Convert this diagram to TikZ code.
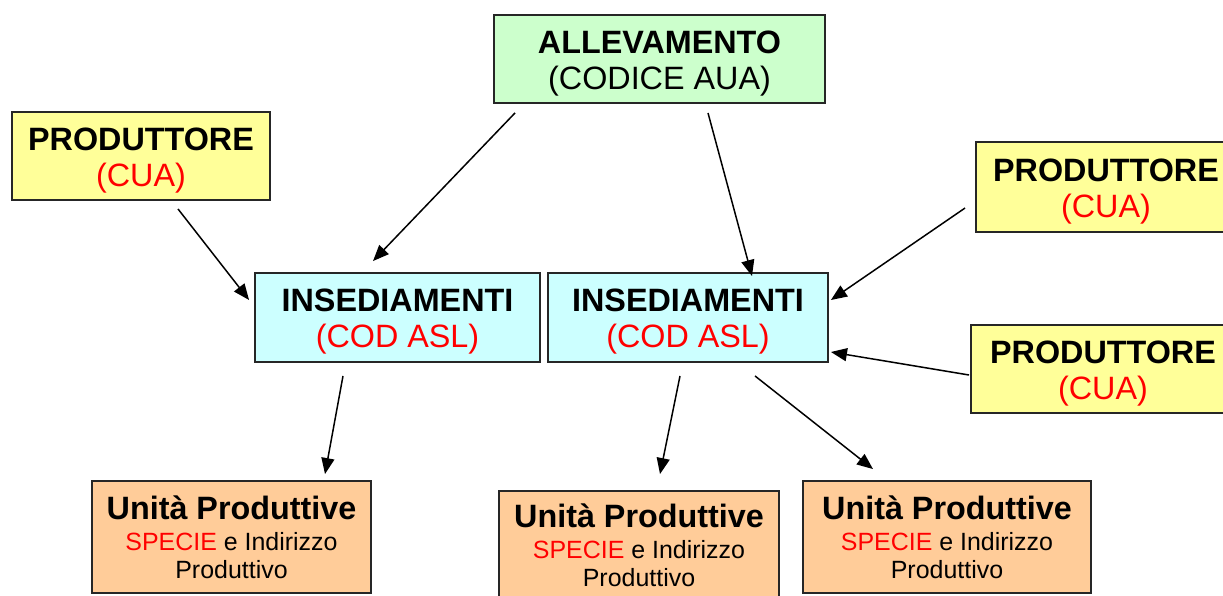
\documentclass[tikz,border=0pt]{standalone}
\usepackage{fontspec}
\setmainfont{Liberation Sans}
\usetikzlibrary{arrows.meta}
\definecolor{verde}{HTML}{CCFFCC}
\definecolor{giallo}{HTML}{FFFF99}
\definecolor{azzurro}{HTML}{CCFFFF}
\definecolor{arancio}{HTML}{FFCC99}
\newcommand{\grande}{\fontsize{18.4}{20.5}\selectfont}
\newcommand{\piccolo}{\fontsize{14.2}{16}\selectfont}
\newcommand{\alza}{\rule{0pt}{17.5pt}}
\begin{document}
\begin{tikzpicture}[x=0.02cm, y=-0.02cm,
	box/.style={draw=black!85, line width=1.1pt, align=center, inner sep=0pt, font=\grande},
	arr/.style={line width=0.85pt, -{Triangle[length=0.32cm, width=0.26cm]}}]
	\useasboundingbox (0, 0) rectangle (1223, 595);
	% boxes
	\node[box, fill=verde, minimum width=6.62cm, minimum height=1.76cm] (all) at (659.5, 59) {\alza\textbf{ALLEVAMENTO}\\(CODICE AUA)};
	\node[box, fill=giallo, minimum width=5.16cm, minimum height=1.76cm] (prodL) at (141, 156) {\alza\textbf{PRODUTTORE}\\\textcolor{red}{(CUA)}};
	\node[box, fill=giallo, minimum width=5.2cm, minimum height=1.8cm] (prodR1) at (1106, 187) {\alza\textbf{PRODUTTORE}\\\textcolor{red}{(CUA)}};
	\node[box, fill=giallo, minimum width=5.28cm, minimum height=1.76cm] (prodR2) at (1103, 369) {\alza\textbf{PRODUTTORE}\\\textcolor{red}{(CUA)}};
	\node[box, fill=azzurro, minimum width=5.7cm, minimum height=1.78cm] (insL) at (397.5, 317.5) {\alza\textbf{INSEDIAMENTI}\\\textcolor{red}{(COD ASL)}};
	\node[box, fill=azzurro, minimum width=5.6cm, minimum height=1.78cm] (insR) at (688, 317.5) {\alza\textbf{INSEDIAMENTI}\\\textcolor{red}{(COD ASL)}};
	\node[box, fill=arancio, minimum width=5.58cm, minimum height=2.24cm] (unitL) at (231.5, 537) {\textbf{Unità Produttive}\\[-2.7pt]{\piccolo\textcolor{red}{SPECIE} e Indirizzo}\\[-4.7pt]{\piccolo Produttivo}};
	\node[box, fill=arancio, minimum width=5.6cm, minimum height=2.16cm] (unitM) at (639, 545) {\textbf{Unità Produttive}\\[-2.7pt]{\piccolo\textcolor{red}{SPECIE} e Indirizzo}\\[-4.7pt]{\piccolo Produttivo}};
	\node[box, fill=arancio, minimum width=5.76cm, minimum height=2.24cm] (unitR) at (947, 537) {\textbf{Unità Produttive}\\[-2.7pt]{\piccolo\textcolor{red}{SPECIE} e Indirizzo}\\[-4.7pt]{\piccolo Produttivo}};
	% arrows
	\draw[arr] ([shift={(-144.5, 9)}]all.south) -- ([shift={(-24.5, -11)}]insL.north);
	\draw[arr] ([shift={(48.5, 9)}]all.south) -- ([shift={(64, 4)}]insR.north);
	\draw[arr] ([shift={(37, 8)}]prodL.south) -- ([shift={(-5, -17.5)}]insL.west);
	\draw[arr] ([shift={(-10, 21)}]prodR1.west) -- ([shift={(2, -17.5)}]insR.east);
	\draw[arr] ([shift={(-1, 6)}]prodR2.west) -- ([shift={(2, 34.5)}]insR.east);
	\draw[arr] ([shift={(-54.5, 13)}]insL.south) -- ([shift={(93.5, -6)}]unitL.north);
	\draw[arr] ([shift={(-8, 13)}]insR.south) -- ([shift={(21, -16)}]unitM.north);
	\draw[arr] ([shift={(67, 13)}]insR.south) -- ([shift={(-74, -11)}]unitR.north);
\end{tikzpicture}
\end{document}
